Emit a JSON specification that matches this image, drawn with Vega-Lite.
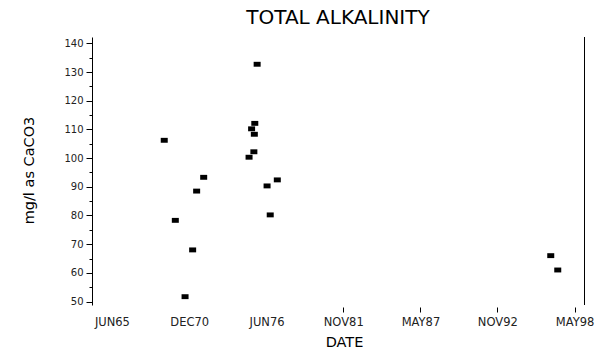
{
  "$schema": "https://vega.github.io/schema/vega-lite/v6.json",
  "width": 492,
  "height": 268,
  "autosize": "none",
  "padding": {"left": 92, "top": 37, "right": 21, "bottom": 47},
  "background": "white",
  "title": {
    "text": "TOTAL ALKALINITY",
    "font": "DejaVu Sans",
    "fontSize": 20,
    "fontWeight": "normal",
    "color": "black",
    "offset": 9
  },
  "config": {
    "view": {"stroke": null},
    "axis": {"grid": false}
  },
  "data": {
    "values": [
      {"date": "1975-10-01", "alk": 132.7},
      {"date": "1975-08-01", "alk": 112.1},
      {"date": "1975-05-10", "alk": 110.2},
      {"date": "1975-07-20", "alk": 108.3},
      {"date": "1969-02-20", "alk": 106.2},
      {"date": "1975-07-08", "alk": 102.2},
      {"date": "1975-03-05", "alk": 100.3},
      {"date": "1971-12-12", "alk": 93.3},
      {"date": "1977-03-08", "alk": 92.4},
      {"date": "1976-06-15", "alk": 90.3},
      {"date": "1971-06-12", "alk": 88.5},
      {"date": "1969-12-05", "alk": 78.3},
      {"date": "1976-09-05", "alk": 80.2},
      {"date": "1971-02-28", "alk": 68.0},
      {"date": "1970-08-15", "alk": 51.7},
      {"date": "1996-08-20", "alk": 66.0},
      {"date": "1997-02-18", "alk": 61.0}
    ]
  },
  "layer": [
    {
      "mark": {"type": "point", "shape": "M-1,-0.7H1V0.7H-1Z", "filled": true, "color": "black", "opacity": 1, "size": 49},
      "encoding": {
        "x": {
          "field": "date",
          "type": "temporal",
          "scale": {"type": "utc", "domain": [{"year": 1964, "month": 1, "date": 1, "utc": true}, {"year": 1999, "month": 1, "date": 1, "utc": true}]},
          "axis": {
            "title": "DATE",
            "titleFont": "DejaVu Sans",
            "titleFontSize": 14.5,
            "titleFontWeight": "normal",
            "titleColor": "black",
            "titleX": 252,
            "titleY": 35,
            "titleBaseline": "middle",
            "domain": false,
            "offset": 2,
            "tickSize": 5,
            "tickColor": "black",
            "tickOpacity": {"condition": {"test": "datum.value < datetime(1980,0,1)", "value": 0}, "value": 1},
            "labelFont": "DejaVu Sans",
            "labelFontSize": 11.5,
            "labelColor": "#222",
            "labelPadding": 4,
            "labelFlush": false,
            "values": [
              {"year": 1965, "month": 6, "date": 1, "utc": true},
              {"year": 1970, "month": 12, "date": 1, "utc": true},
              {"year": 1976, "month": 6, "date": 1, "utc": true},
              {"year": 1981, "month": 11, "date": 15, "utc": true},
              {"year": 1987, "month": 5, "date": 15, "utc": true},
              {"year": 1992, "month": 11, "date": 1, "utc": true},
              {"year": 1998, "month": 5, "date": 1, "utc": true}
            ],
            "labelExpr": "upper(utcFormat(datum.value, '%b%y'))"
          }
        },
        "y": {
          "field": "alk",
          "type": "quantitative",
          "scale": {"domain": [48.8, 142.2], "nice": false, "zero": false},
          "axis": {
            "title": "mg/l as CaCO3",
            "titleFont": "DejaVu Sans",
            "titleFontSize": 14.5,
            "titleFontWeight": "normal",
            "titleColor": "black",
            "titleX": -63,
            "titleY": 133,
            "titleAngle": -90,
            "titleAlign": "center",
            "titleBaseline": "middle",
            "domainColor": "black",
            "tickColor": "black",
            "values": [50, 55, 60, 65, 70, 75, 80, 85, 90, 95, 100, 105, 110, 115, 120, 125, 130, 135, 140],
            "tickSize": {"condition": {"test": "datum.value % 10 != 0", "value": 3}, "value": 6},
            "labelExpr": "datum.value % 10 == 0 ? datum.label : ''",
            "labelFont": "DejaVu Sans",
            "labelFontSize": 10,
            "labelColor": "#222",
            "labelPadding": 3
          }
        }
      }
    },
    {
      "mark": {"type": "rule", "color": "black", "strokeWidth": 1, "xOffset": 0.5},
      "encoding": {
        "x": {"datum": {"year": 1999, "month": 1, "date": 1, "utc": true}, "type": "temporal"}
      }
    }
  ]
}
